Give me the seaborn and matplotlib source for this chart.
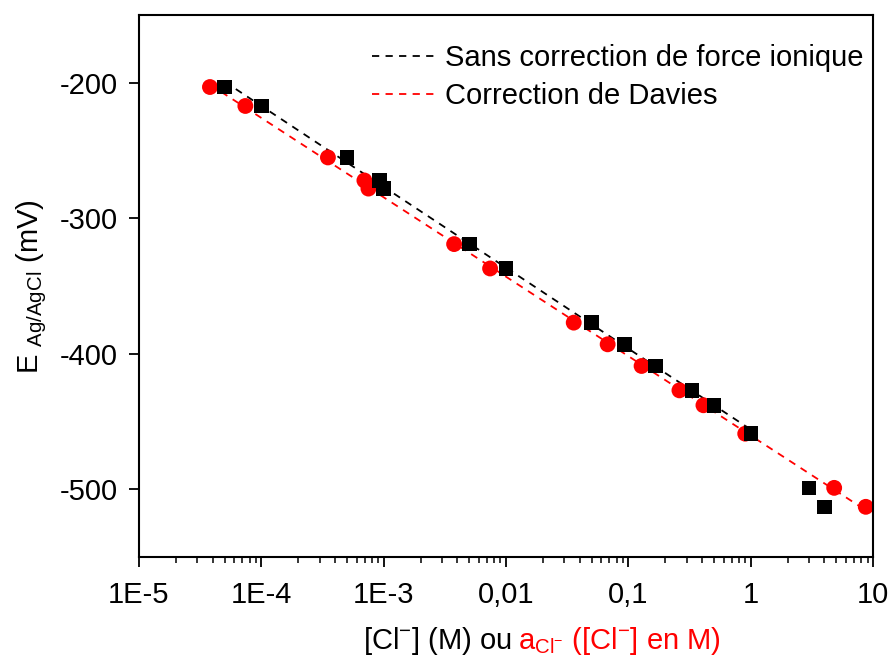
import numpy as np
import pandas as pd
import seaborn as sns
import matplotlib.pyplot as plt
from matplotlib.ticker import FixedLocator, LogLocator, NullFormatter

# concentrations [Cl-] (M) et activités a_Cl-
conc = [5e-5, 1e-4, 5e-4, 9.2e-4, 1e-3, 5e-3, 0.01, 0.05, 0.093, 0.166, 0.33, 0.5, 1.0, 3.0, 4.0]
activite = [3.8e-5, 7.4e-5, 3.5e-4, 6.95e-4, 7.5e-4, 3.76e-3, 7.4e-3, 0.0357, 0.0676, 0.128, 0.261, 0.41, 0.90, 4.8, 8.7]
E_mV = [-203, -217, -255, -272, -278, -319, -337, -377, -393, -409, -427, -438, -459, -499, -513]

xticks = [1e-5, 1e-4, 1e-3, 1e-2, 1e-1, 1, 10]
xticklabels = ["1E-5", "1E-4", "1E-3", "0,01", "0,1", "1", "10"]
yticks = [-200, -300, -400, -500]

sns.set_theme(style="ticks")
plt.rcParams['font.family'] = ['Liberation Sans', 'DejaVu Sans']
plt.rcParams['mathtext.fontset'] = 'custom'
plt.rcParams['mathtext.rm'] = 'Liberation Sans'
plt.rcParams['mathtext.it'] = 'Liberation Sans:italic'
plt.rcParams['mathtext.default'] = 'regular'
plt.rcParams['axes.unicode_minus'] = False
plt.rcParams['text.color'] = 'black'
plt.rcParams['axes.labelcolor'] = 'black'
plt.rcParams['xtick.color'] = 'black'
plt.rcParams['ytick.color'] = 'black'

df = pd.DataFrame({"conc": conc, "act": activite, "E": E_mV})

# droites d'ajustement (Nernst) : sans correction jusqu'à 1 M, Davies sur tout
sub = df[df["conc"] <= 1]
p_noir = np.polyfit(np.log10(sub["conc"]), sub["E"], 1)
p_rouge = np.polyfit(np.log10(df["act"]), df["E"], 1)
x_noir = np.array([sub["conc"].min(), sub["conc"].max()])
x_rouge = np.array([df["act"].min(), df["act"].max()])
fit = pd.concat([
    pd.DataFrame({"x": x_noir, "y": np.polyval(p_noir, np.log10(x_noir)),
                  "serie": "Sans correction de force ionique"}),
    pd.DataFrame({"x": x_rouge, "y": np.polyval(p_rouge, np.log10(x_rouge)),
                  "serie": "Correction de Davies"}),
])

fig = plt.figure(figsize=(8.91, 6.63), dpi=100)
ax = fig.add_axes([0.156, 0.160, 0.824, 0.817])

sns.lineplot(data=fit, x="x", y="y", hue="serie",
             palette={"Sans correction de force ionique": "black", "Correction de Davies": "red"},
             lw=1.3, ax=ax, zorder=1)
for line in ax.lines:
    line.set_dashes((4, 3.5))

sns.scatterplot(data=df, x="conc", y="E", marker="s", color="black", s=110,
                edgecolor="none", ax=ax, zorder=3, legend=False)
sns.scatterplot(data=df, x="act", y="E", marker="o", color="red", s=130,
                edgecolor="none", ax=ax, zorder=2, legend=False)

ax.set_xscale("log")
ax.set_xlim(1e-5, 10)
ax.set_ylim(-550, -150)
ax.xaxis.set_major_locator(FixedLocator(xticks))
ax.set_xticks(xticks)
ax.set_xticklabels(xticklabels)
ax.xaxis.set_minor_locator(LogLocator(base=10, subs=np.arange(2, 10)))
ax.xaxis.set_minor_formatter(NullFormatter())
ax.set_yticks(yticks)

ax.tick_params(axis="both", which="major", direction="out", length=7, width=1.3,
               labelsize=21, pad=8, top=False, right=False)
ax.tick_params(axis="x", which="major", pad=10)
ax.tick_params(axis="x", which="minor", direction="out", length=4, width=1.1, top=False)
for sp in ax.spines.values():
    sp.set_linewidth(1.5)
    sp.set_color("black")

ax.set_xlabel("")
ax.set_ylabel(r"E $_{Ag/AgCl}$ (mV)", fontsize=21, labelpad=8)

# titre de l'axe x en deux couleurs
fig.text(0.577, 0.033, r"[Cl$^{-}$] (M) ou ", fontsize=21, color="black", ha="right", va="center")
fig.text(0.581, 0.033, r"a$_{Cl^{-}}$ ([Cl$^{-}$] en M)", fontsize=21, color="red", ha="left", va="center")

leg = ax.legend(loc="upper left", bbox_to_anchor=(0.29, 0.985), frameon=False, fontsize=21,
                handlelength=2.3, handletextpad=0.2, labelspacing=0.35, borderaxespad=0.3)
for h in leg.get_lines():
    h.set_dashes((4, 3.5))
    h.set_linewidth(1.3)

fig.savefig("out.png", dpi=100)
